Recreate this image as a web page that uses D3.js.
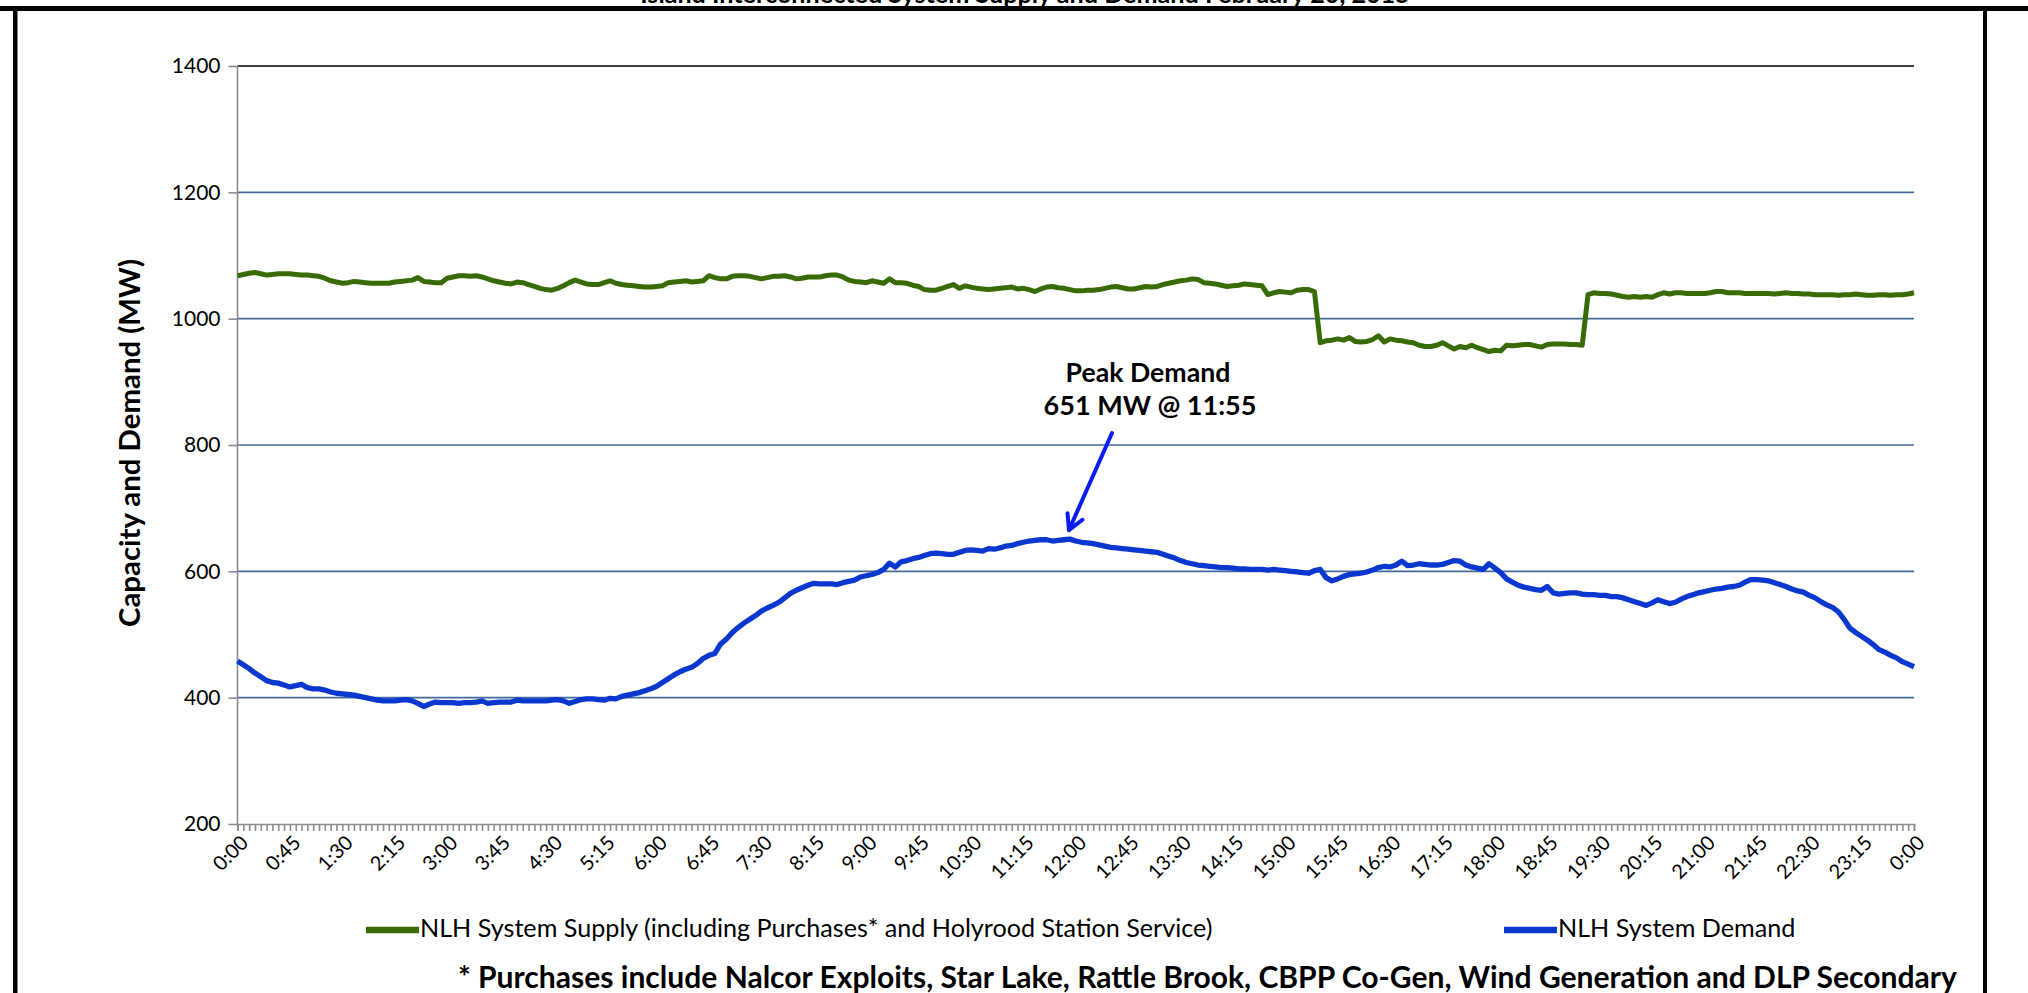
<!DOCTYPE html>
<html lang="en">
    <head>
        <meta charset="utf-8">
        <title>NLH System Supply and Demand</title>
        <script type="text/javascript" src="https://d3js.org/d3.v7.min.js"></script>
        <style>
            body {
                margin: 0;
                background-color: white;
            }
            text {
                font-family: Lato, "Open Sans", sans-serif;
                fill: #000;
            }
            .grid {
                stroke: #46699b;
                stroke-width: 1.6;
            }
            .axis path, .axis line {
                stroke: #8c8c8c;
                stroke-width: 1.6;
            }
        </style>
    </head>
    <body>
        <div id="svgContainer"></div>
        <script type="text/javascript">
            //set svg size
            let w = 2028;
            let h = 993;
            let plotLeft = 237.5, plotRight = 1914, plotTop = 66, plotBottom = 824;

            //tick labels on the x axis (every 45 minutes)
            let tickLabels = ["0:00", "0:45", "1:30", "2:15", "3:00", "3:45", "4:30", "5:15", "6:00", "6:45",
                              "7:30", "8:15", "9:00", "9:45", "10:30", "11:15", "12:00", "12:45", "13:30", "14:15",
                              "15:00", "15:45", "16:30", "17:15", "18:00", "18:45", "19:30", "20:15", "21:00", "21:45",
                              "22:30", "23:15", "0:00"];
            let yTicks = [200, 400, 600, 800, 1000, 1200, 1400];

            //NLH System Supply, 5 minute readings 0:00 - 24:00
            let supply = [
                1068, 1070, 1072, 1073, 1071, 1069, 1070, 1071, 1071, 1071, 1070, 1069, 1069, 1068, 1067, 1064, 1060, 1058, 1056, 1057,
                1059, 1058, 1057, 1056, 1056, 1056, 1056, 1058, 1059, 1060, 1061, 1065, 1059, 1058, 1057, 1057, 1064, 1066, 1068, 1068,
                1067, 1068, 1066, 1063, 1060, 1058, 1056, 1055, 1058, 1057, 1054, 1051, 1048, 1046, 1045, 1048, 1052, 1057, 1061, 1058,
                1055, 1054, 1054, 1057, 1060, 1056, 1054, 1053, 1052, 1051, 1050, 1050, 1051, 1052, 1057, 1058, 1059, 1060, 1058, 1059,
                1060, 1068, 1065, 1063, 1063, 1067, 1068, 1068, 1067, 1065, 1063, 1065, 1067, 1067, 1068, 1066, 1063, 1064, 1066, 1066,
                1066, 1068, 1069, 1069, 1066, 1061, 1059, 1058, 1057, 1060, 1058, 1056, 1063, 1057, 1057, 1056, 1053, 1051, 1046, 1045,
                1045, 1048, 1051, 1054, 1048, 1052, 1050, 1048, 1047, 1046, 1047, 1048, 1049, 1050, 1047, 1048, 1046, 1043, 1047, 1050,
                1051, 1049, 1048, 1046, 1044, 1044, 1045, 1045, 1046, 1048, 1050, 1051, 1049, 1047, 1047, 1049, 1051, 1050, 1051, 1054,
                1056, 1058, 1060, 1061, 1063, 1062, 1057, 1056, 1055, 1053, 1051, 1052, 1053, 1055, 1054, 1053, 1052, 1038, 1041, 1043,
                1042, 1041, 1045, 1046, 1046, 1043, 962, 965, 966, 968, 966, 970, 964, 963, 964, 967, 973, 963, 968, 966,
                965, 963, 962, 958, 956, 956, 958, 962, 957, 952, 956, 954, 958, 954, 951, 948, 950, 949, 958, 957,
                958, 959, 959, 957, 955, 959, 960, 960, 960, 959, 959, 958, 1038, 1041, 1040, 1040, 1039, 1037, 1035, 1034,
                1035, 1034, 1035, 1034, 1038, 1041, 1039, 1041, 1041, 1040, 1040, 1040, 1040, 1041, 1043, 1043, 1041, 1041, 1041, 1040,
                1040, 1040, 1040, 1040, 1039, 1040, 1041, 1040, 1040, 1039, 1039, 1038, 1038, 1038, 1038, 1037, 1038, 1038, 1039, 1038,
                1037, 1037, 1038, 1038, 1037, 1038, 1038, 1039, 1041
            ];

            //NLH System Demand, 5 minute readings 0:00 - 24:00
            let demand = [
                458, 452, 446, 439, 433, 427, 424, 423, 420, 417, 419, 421, 416, 414, 414, 412, 409, 407, 406, 405,
                404, 402, 400, 398, 396, 395, 395, 395, 396, 397, 395, 391, 386, 390, 393, 392, 392, 392, 391, 392,
                392, 393, 395, 391, 392, 393, 393, 393, 396, 395, 395, 395, 395, 395, 396, 397, 395, 391, 394, 397,
                398, 398, 397, 396, 399, 398, 402, 404, 406, 408, 411, 414, 418, 424, 430, 436, 441, 445, 448, 454,
                462, 467, 470, 485, 493, 503, 511, 518, 524, 530, 537, 542, 546, 551, 558, 565, 570, 574, 578, 581,
                580, 580, 580, 579, 582, 584, 586, 591, 593, 595, 598, 603, 613, 607, 615, 617, 620, 622, 625, 628,
                629, 628, 627, 627, 630, 633, 634, 633, 632, 636, 635, 637, 640, 641, 644, 646, 648, 649, 650, 650,
                648, 649, 650, 651, 648, 646, 645, 644, 642, 640, 638, 637, 636, 635, 634, 633, 632, 631, 630, 627,
                624, 621, 617, 614, 612, 610, 609, 608, 607, 606, 606, 605, 604, 604, 603, 603, 603, 602, 603, 602,
                601, 600, 599, 598, 597, 601, 603, 590, 585, 588, 592, 595, 596, 597, 599, 602, 606, 608, 607, 610,
                616, 609, 610, 612, 611, 610, 610, 611, 614, 617, 616, 610, 607, 605, 603, 612, 605, 598, 588, 583,
                578, 575, 573, 571, 570, 576, 566, 564, 565, 566, 566, 564, 563, 563, 562, 562, 560, 560, 558, 555,
                552, 549, 546, 550, 555, 552, 549, 551, 556, 560, 563, 566, 568, 570, 572, 573, 575, 576, 578, 583,
                587, 587, 586, 585, 582, 579, 576, 572, 569, 567, 562, 558, 552, 547, 543, 536, 524, 510, 503, 497,
                491, 484, 476, 472, 467, 463, 457, 453, 449
            ];

            let supplyLabel = "NLH System Supply (including Purchases* and Holyrood Station Service)";
            let demandLabel = "NLH System Demand";
            let footnote = "*  Purchases include Nalcor Exploits, Star Lake, Rattle Brook, CBPP Co-Gen, Wind Generation and DLP Secondary";

            //scales
            let xScale = d3.scaleLinear()
                        .domain([0, supply.length - 1])
                        .range([plotLeft, plotRight]);

            let yScale = d3.scaleLinear()
                        .domain([200, 1400])
                        .range([plotBottom, plotTop]);

            //helper to size a text to a given width
            const fit = (sel, target) => {
                let size = parseFloat(sel.style("font-size"));
                let len = sel.node().getComputedTextLength();
                sel.style("font-size", (size * target / len) + "px");
                return size * target / len;
            };

            //create svg element
            let svg = d3.select("#svgContainer")
                        .append("svg")
                        .attr("width", w)
                        .attr("height", h);

            svg.append("rect")
                .attr("width", w)
                .attr("height", h)
                .attr("fill", "white");

            //title, mostly cut off above the frame
            let title = svg.append("text")
                .attr("x", 1025)
                .attr("y", 3)
                .attr("text-anchor", "middle")
                .style("font-weight", "bold")
                .style("font-size", "24px")
                .text("Island Interconnected System Supply and Demand February 20, 2015");
            fit(title, 770);

            //frame
            svg.append("rect").attr("x", 0).attr("y", 6).attr("width", w).attr("height", 5).attr("fill", "#000");
            svg.append("rect").attr("x", 13).attr("y", 6).attr("width", 4.5).attr("height", h).attr("fill", "#000");
            svg.append("rect").attr("x", 1983).attr("y", 6).attr("width", 4).attr("height", h).attr("fill", "#000");

            //grid lines
            svg.append("g")
                .selectAll("line")
                .data(yTicks.filter(d => d > 200))
                .enter()
                .append("line")
                .attr("class", "grid")
                .attr("x1", plotLeft)
                .attr("x2", plotRight)
                .attr("y1", d => yScale(d))
                .attr("y2", d => yScale(d))
                .style("stroke", d => d === 1400 ? "#000" : null)
                .style("stroke-width", d => d === 1400 ? 1.3 : null);

            //y axis
            let yAxis = d3.axisLeft(yScale)
                        .tickValues(yTicks)
                        .tickSize(9)
                        .tickPadding(8)
                        .tickFormat(d3.format("d"));

            svg.append("g")
                .attr("class", "axis axis-y")
                .attr("transform", `translate(${plotLeft}, 0)`)
                .call(yAxis)
                .call(g => g.select(".domain").attr("d", `M0,${plotTop}V${plotBottom}`))
                .selectAll("text")
                .style("font-size", "21px")
                .style("font-family", "Lato, sans-serif");

            //x axis minor ticks (every point)
            let xAxis = d3.axisBottom(xScale)
                        .tickValues(d3.range(0, supply.length))
                        .tickSize(7)
                        .tickFormat("");

            svg.append("g")
                .attr("class", "axis axis-x")
                .attr("transform", `translate(0, ${plotBottom})`)
                .call(xAxis);

            //x axis labels
            svg.append("g")
                .selectAll("text")
                .data(tickLabels)
                .enter()
                .append("text")
                .attr("text-anchor", "end")
                .attr("transform", (d, i) => `translate(${xScale(i * 9) + 7}, ${plotBottom + 15}) rotate(-45)`)
                .attr("dy", "0.35em")
                .style("font-size", "20px")
                .text(d => d);

            //y axis title
            let yTitle = svg.append("text")
                .attr("transform", "translate(140, 443) rotate(-90)")
                .attr("text-anchor", "middle")
                .style("font-weight", "bold")
                .style("font-size", "22px")
                .text("Capacity and Demand (MW)");
            fit(yTitle, 368);

            //lines
            let line = d3.line()
                        .x((d, i) => xScale(i))
                        .y(d => yScale(d));

            svg.append("path")
                .datum(supply)
                .attr("d", line)
                .attr("fill", "none")
                .attr("stroke", "#386a05")
                .attr("stroke-width", 5)
                .attr("stroke-linejoin", "round");

            svg.append("path")
                .datum(demand)
                .attr("d", line)
                .attr("fill", "none")
                .attr("stroke", "#0a38cf")
                .attr("stroke-width", 5.3)
                .attr("stroke-linejoin", "round");

            //peak annotation
            let peakIndex = demand.indexOf(d3.max(demand));
            let peak1 = svg.append("text")
                .attr("x", 1148)
                .attr("y", 382)
                .attr("text-anchor", "middle")
                .style("font-weight", "bold")
                .style("font-size", "22px")
                .text("Peak Demand");
            fit(peak1, 165);
            let peak2 = svg.append("text")
                .attr("x", 1150)
                .attr("y", 415)
                .attr("text-anchor", "middle")
                .style("font-weight", "bold")
                .style("font-size", "22px")
                .text(`${d3.max(demand)} MW @ 11:55`);
            fit(peak2, 213);

            //arrow to the peak
            let tipX = xScale(peakIndex) - 1, tipY = yScale(d3.max(demand)) - 9;
            let startX = 1112, startY = 433;
            let ang = Math.atan2(tipY - startY, tipX - startX);
            let headLen = 17, spread = 0.5;
            svg.append("path")
                .attr("d", `M${startX},${startY}L${tipX},${tipY}` +
                    `M${tipX - headLen * Math.cos(ang - spread)},${tipY - headLen * Math.sin(ang - spread)}L${tipX},${tipY}` +
                    `L${tipX - headLen * Math.cos(ang + spread)},${tipY - headLen * Math.sin(ang + spread)}`)
                .attr("fill", "none")
                .attr("stroke", "#0a1cf0")
                .attr("stroke-width", 4)
                .attr("stroke-linecap", "round")
                .attr("stroke-linejoin", "round");

            //legend
            svg.append("line")
                .attr("x1", 366).attr("x2", 419)
                .attr("y1", 930).attr("y2", 930)
                .attr("stroke", "#386a05")
                .attr("stroke-width", 6.5);
            let leg1 = svg.append("text")
                .attr("x", 420)
                .attr("y", 937)
                .style("font-size", "20px")
                .text(supplyLabel);
            let legSize = fit(leg1, 793);

            svg.append("line")
                .attr("x1", 1504).attr("x2", 1557)
                .attr("y1", 930).attr("y2", 930)
                .attr("stroke", "#0a38cf")
                .attr("stroke-width", 6.5);
            svg.append("text")
                .attr("x", 1558)
                .attr("y", 937)
                .style("font-size", legSize + "px")
                .text(demandLabel);

            //footnote
            let foot = svg.append("text")
                .attr("x", 458)
                .attr("y", 988)
                .style("font-weight", "bold")
                .style("font-size", "21px")
                .text(footnote);
            fit(foot, 1499);
        </script>
    </body>
</html>
